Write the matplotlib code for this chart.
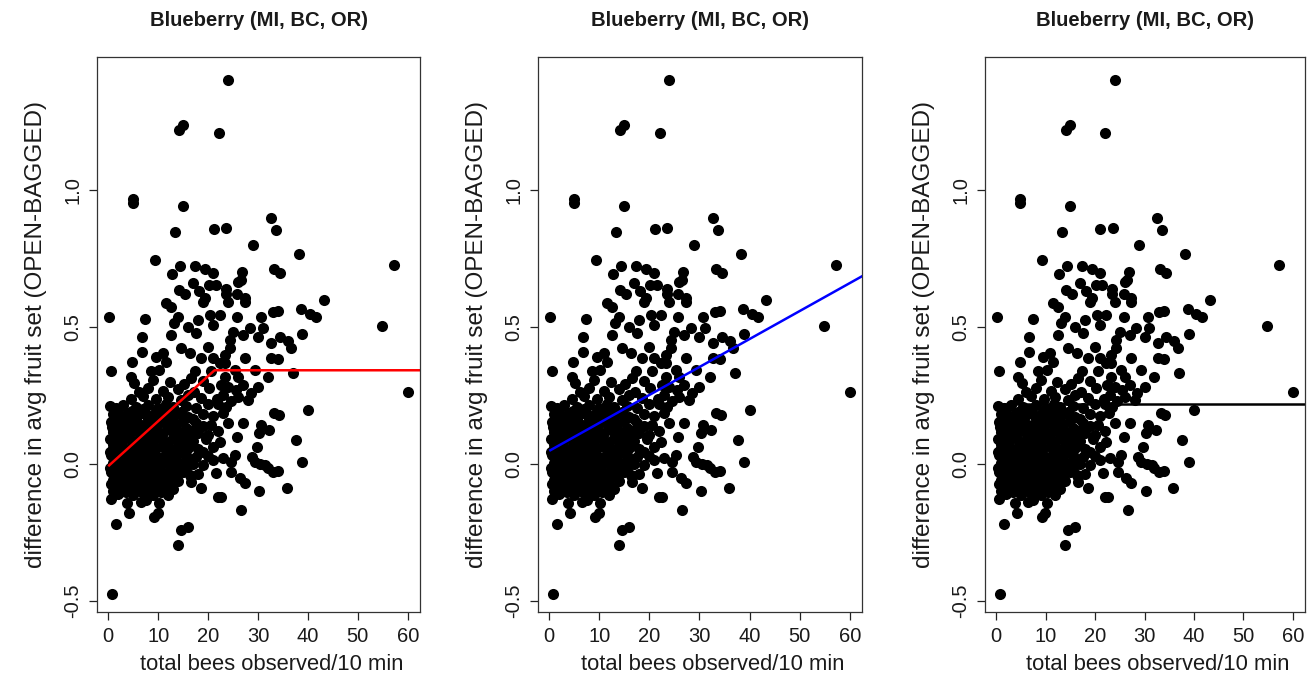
import matplotlib
matplotlib.use("Agg")
import matplotlib.pyplot as plt
import numpy as np

# ---------------- data ----------------
title = "Blueberry (MI, BC, OR)"
xlabel = "total bees observed/10 min"
ylabel = "difference in avg fruit set (OPEN-BAGGED)"
xticks = [0, 10, 20, 30, 40, 50, 60]
yticks = [-0.5, 0.0, 0.5, 1.0]
ytick_labels = ["-0.5", "0.0", "0.5", "1.0"]

# sparse points (bees, difference)
upper_points = [(23.96, 1.400), (14.9, 1.237), (14.2, 1.219), (22.1, 1.208), (4.9, 0.967), (4.9, 0.953),
                (14.9, 0.943), (32.6, 0.898), (33.6, 0.852), (13.3, 0.847), (21.1, 0.859), (23.6, 0.862),
                (28.9, 0.800), (38.2, 0.766), (9.3, 0.745), (57.2, 0.727), (14.3, 0.724), (12.7, 0.693),
                (17.3, 0.724), (19.4, 0.713), (21.0, 0.698), (26.8, 0.701), (33.2, 0.713), (34.4, 0.698),
                (26.0, 0.665), (26.5, 0.672), (17.0, 0.659), (20.1, 0.654), (21.5, 0.654), (14.2, 0.635),
                (15.4, 0.622), (18.1, 0.631), (23.5, 0.637), (23.5, 0.619), (25.8, 0.622), (27.3, 0.607),
                (43.2, 0.600), (19.3, 0.605)]
right_points = [(34.0, 0.558), (38.7, 0.565), (40.4, 0.547), (41.7, 0.535), (54.8, 0.503), (34.4, 0.462),
                (36.0, 0.450), (36.7, 0.422), (38.9, 0.473), (34.0, 0.383), (37.0, 0.332), (60.05, 0.264),
                (40.1, 0.197), (34.2, 0.179), (37.6, 0.088), (38.9, 0.008), (34.0, -0.024), (35.8, -0.086)]
low_points = [(13.9, -0.296), (0.82, -0.476), (0.5, -0.129), (3.8, -0.143), (4.2, -0.180), (6.5, -0.138),
              (7.5, -0.131), (1.5, -0.220), (9.2, -0.192), (10.5, -0.040), (12.5, -0.010), (14.9, 0.003),
              (16.3, -0.040), (16.6, -0.065), (18.6, -0.089), (12.5, -0.083), (11.9, -0.113), (10.2, -0.143),
              (9.9, -0.179), (21.6, -0.034), (14.6, -0.241), (15.9, -0.229), (22.0, -0.119), (24.6, -0.028),
              (26.3, -0.052), (27.3, -0.070), (30.3, -0.098), (22.6, -0.119), (26.6, -0.168), (29.3, 0.008),
              (32.0, -0.016), (33.0, -0.028), (24.6, 0.008), (30.5, 0.0), (31.5, -0.005)]
mid_points = [(0.15, 0.538), (7.4, 0.529), (6.7, 0.465), (6.7, 0.408), (4.8, 0.373), (0.5, 0.341),
              (4.5, 0.316), (8.5, 0.341), (9.5, 0.392), (11.5, 0.586), (12.5, 0.572), (13.9, 0.538),
              (13.2, 0.513), (15.9, 0.501), (17.9, 0.526), (20.3, 0.544), (18.9, 0.592), (21.0, 0.507),
              (17.6, 0.477), (12.5, 0.471), (14.6, 0.422), (16.3, 0.404), (18.6, 0.386), (20.0, 0.428),
              (21.0, 0.386), (10.9, 0.404), (11.5, 0.373), (17.3, 0.338), (20.6, 0.338), (16.6, 0.313),
              (10.2, 0.343), (24.0, 0.592), (27.3, 0.592), (22.3, 0.544), (25.8, 0.538), (30.7, 0.538),
              (33.0, 0.556), (25.0, 0.483), (28.3, 0.495), (31.0, 0.495), (30.0, 0.465), (27.0, 0.471),
              (24.3, 0.453), (24.3, 0.422), (32.7, 0.441), (23.3, 0.398), (23.3, 0.368), (27.3, 0.386),
              (32.7, 0.386), (22.3, 0.368), (25.3, 0.343), (29.3, 0.343), (26.0, 0.319), (23.3, 0.319),
              (32.0, 0.319), (27.0, 0.148), (30.7, 0.142), (32.3, 0.124), (30.3, 0.112), (33.3, 0.185),
              (25.8, 0.100), (22.9, 0.185), (29.7, 0.063), (22.3, 0.081), (25.3, 0.033), (28.7, 0.027),
              (22.5, 0.29), (24.0, 0.28), (25.5, 0.27), (27.0, 0.29), (28.5, 0.26), (23.0, 0.25),
              (24.5, 0.23), (26.0, 0.245), (22.0, 0.22), (28.0, 0.235), (30.0, 0.28)]
dense_points = [(5.2, 0.296), (9, 0.305), (12.3, 0.298), (15.1, 0.291), (19, 0.303),
                (6.1, 0.262), (8, 0.279), (11, 0.266), (14, 0.272), (17.2, 0.264), (20.1, 0.277),
                (4.5, 0.236), (7, 0.248), (9.6, 0.238), (12, 0.245), (14.6, 0.233), (16, 0.251),
                (18.5, 0.240), (21.8, 0.236),
                (0.3, 0.212), (1.5, 0.205), (3, 0.216), (5.5, 0.208), (8, 0.214), (10, 0.203), (11.6, 0.219),
                (13, 0.207), (15.5, 0.213), (17.6, 0.204), (20, 0.218), (23.5, 0.209),
                (1, 0.183), (2.5, 0.176), (4, 0.187), (6, 0.179), (7.5, 0.184), (9, 0.174), (10.5, 0.188),
                (12.5, 0.178), (14, 0.185), (16, 0.173), (19, 0.181), (21, 0.176),
                (0.5, 0.153), (2, 0.146), (3.5, 0.157), (5, 0.149), (6.5, 0.142), (8.5, 0.155), (10, 0.147),
                (11.5, 0.152), (13.5, 0.144), (15, 0.158), (17.5, 0.149), (20.5, 0.143), (24, 0.151),
                (1, 0.118), (2.5, 0.124), (4, 0.113), (5.5, 0.122), (7, 0.116), (8, 0.127), (9.5, 0.119),
                (11, 0.114), (12.5, 0.125), (14, 0.117), (16.5, 0.122), (18, 0.112), (22, 0.121),
                (0.3, 0.092), (1.5, 0.085), (3, 0.096), (4.5, 0.088), (6, 0.083), (7.5, 0.094), (9, 0.087),
                (10.5, 0.091), (12, 0.082), (13, 0.095), (15, 0.089), (17, 0.084), (19.5, 0.093),
                (1, 0.058), (2, 0.064), (3.5, 0.055), (5, 0.062), (6.5, 0.053), (8, 0.066), (9.5, 0.057),
                (11, 0.061), (12.5, 0.052), (14, 0.063), (16, 0.058), (18, 0.054), (21, 0.061),
                (0.5, 0.032), (1.5, 0.025), (3, 0.036), (4.5, 0.028), (5.5, 0.034), (7, 0.023), (8.5, 0.031),
                (10, 0.027), (11.5, 0.035), (13.5, 0.024), (15.5, 0.033), (17.5, 0.026), (20, 0.031), (23, 0.022),
                (1, 0.003), (2.5, -0.004), (4, 0.006), (5, -0.002), (6.5, 0.004), (8, -0.006), (9, 0.002),
                (10.5, -0.003), (12, 0.005), (14, -0.005), (17, 0.001), (19, -0.004),
                (0.5, -0.028), (2, -0.034), (3.5, -0.025), (5, -0.032), (6, -0.027), (7.5, -0.036), (9, -0.029),
                (11, -0.033), (13, -0.026), (15, -0.031), (18, -0.035),
                (1, -0.058), (2.5, -0.064), (4, -0.055), (5.5, -0.062), (7, -0.057), (8.5, -0.066), (10, -0.059),
                (12, -0.054), (14, -0.063),
                (1.5, -0.088), (3, -0.094), (4.5, -0.086), (6, -0.092), (8, -0.087), (9.5, -0.095), (11, -0.089),
                (13, -0.093),
                (2, -0.108), (5, -0.114), (7, -0.106), (9, -0.112)]
core_points = [(2, 0.197), (4.8, 0.192), (7, 0.199), (9.5, 0.193), (12, 0.196), (14.5, 0.191),
               (1.5, 0.166), (3, 0.162), (5.5, 0.168), (8, 0.163), (11, 0.167), (13, 0.161), (17, 0.165),
               (0.8, 0.136), (3, 0.131), (4.5, 0.138), (6, 0.133), (7.5, 0.137), (9, 0.132), (12, 0.136),
               (15.5, 0.131), (19, 0.137),
               (2, 0.104), (3.5, 0.108), (6.5, 0.102), (8.5, 0.107), (10, 0.103), (13.5, 0.106), (15.5, 0.101),
               (20, 0.107),
               (1, 0.074), (2.5, 0.078), (5, 0.072), (7, 0.077), (8.5, 0.073), (11.5, 0.076), (14, 0.071),
               (16.5, 0.077),
               (0.3, 0.044), (2.5, 0.047), (4, 0.042), (6, 0.046), (7.5, 0.041), (9, 0.048), (12.5, 0.043),
               (15, 0.047), (19, 0.042),
               (1.8, 0.014), (3.5, 0.017), (6, 0.012), (7.5, 0.016), (11, 0.013), (13, 0.018), (16, 0.012),
               (21, 0.016),
               (0.3, -0.014), (1.5, -0.017), (3, -0.012), (5.5, -0.016), (7, -0.013), (9.5, -0.018),
               (12.5, -0.012), (15.5, -0.016),
               (1.5, -0.044), (3, -0.047), (4.5, -0.042), (6.5, -0.046), (8, -0.043), (11, -0.047),
               (13.5, -0.043), (16.5, -0.046),
               (0.5, -0.074), (2, -0.077), (3.5, -0.073), (5, -0.076), (7.5, -0.072), (9, -0.077), (12, -0.074),
               (1, -0.099), (3.5, -0.102), (6.5, -0.098), (8.5, -0.101), (10.5, -0.103)]

# fitted model lines
seg_x = [0.0, 21.3, 70.0]          # broken-stick (red)
seg_y = [-0.008, 0.342, 0.342]
lin_intercept, lin_slope = 0.048, 0.0102   # linear (blue)
null_mean = 0.218                          # intercept-only (black)

# ---------------- plotting ----------------
all_pts = upper_points + right_points + low_points + mid_points + dense_points + core_points
bees = np.array([p[0] for p in all_pts])
diff = np.array([p[1] for p in all_pts])

plt.rcParams['font.family'] = ['Liberation Sans', 'DejaVu Sans']

W, H = 1315, 694
fig = plt.figure(figsize=(W / 100, H / 100), dpi=100)

boxes = [(97, 420), (538, 862), (985, 1305)]
top_px, bot_px = 57, 612
xlim = (-2.25, 62.45)
ylim = (-0.540, 1.485)

xl = np.array([0.0, 70.0])
lines = [
    (seg_x, seg_y, "#FF0000"),
    (list(xl), list(lin_intercept + lin_slope * xl), "#0000FF"),
    (list(xl), [null_mean, null_mean], "#000000"),
]

for (l, r), (lx, ly, lc) in zip(boxes, lines):
    ax = fig.add_axes([l / W, 1 - bot_px / H, (r - l) / W, (bot_px - top_px) / H])
    ax.plot(bees, diff, linestyle="none", marker="o", ms=8.0, mfc="black", mec="none")
    ax.plot(lx, ly, color=lc, lw=1.8, solid_capstyle="butt")
    ax.set_xlim(*xlim)
    ax.set_ylim(*ylim)
    ax.set_xticks(xticks)
    ax.set_yticks(yticks)
    ax.set_yticklabels(ytick_labels, rotation=90, va="center")
    ax.tick_params(direction="out", length=5.5, width=0.9, labelsize=14.5, pad=5, colors="#222222",
                   labelcolor="#1a1a1a")
    for s in ax.spines.values():
        s.set_linewidth(0.9)
        s.set_color("#333333")
    ax.set_xlabel(xlabel, fontsize=15.8, labelpad=6, color="#1a1a1a")
    ax.xaxis.label.set_x(0.54)
    ax.set_ylabel(ylabel, fontsize=17.5, labelpad=12, color="#1a1a1a")
    ax.set_title(title, fontsize=14.6, fontweight="bold", pad=22, color="#1a1a1a")

fig.savefig("out.png", dpi=100, facecolor="white")
